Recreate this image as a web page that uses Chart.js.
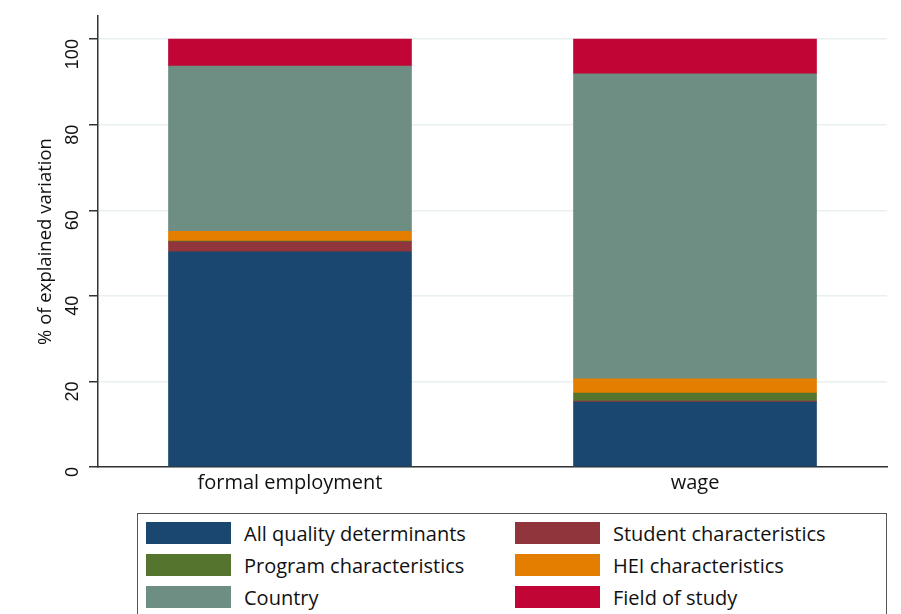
<!DOCTYPE html>
<html>
<head>
<meta charset="utf-8">
<script src="https://cdn.jsdelivr.net/npm/chart.js@4"></script>
<style>
  body { margin: 0; background: #fff; width: 901px; height: 614px; overflow: hidden; position: relative; }
  #wrap { position: absolute; left: 0; top: 0; width: 901px; height: 510px; }
  #legend { position: absolute; left: 137px; top: 513px; width: 750px; height: 120px;
            border: 1px solid #555; box-sizing: border-box; font-family: "Open Sans", sans-serif; font-size: 20px; color: #111; }
  .item { position: absolute; height: 32px; display: flex; align-items: center; }
  .sw { width: 85px; height: 22px; margin-right: 13px; }
</style>
</head>
<body>
<div id="wrap"><canvas id="myChart"></canvas></div>
<div id="legend"></div>
<script>
var categories = ["formal employment", "wage"];
var seriesNames = ["All quality determinants", "Student characteristics", "Program characteristics",
                   "HEI characteristics", "Country", "Field of study"];
var allQuality = [50.3, 15.2];
var student = [2.3, 0.2];
var program = [0.2, 1.9];
var hei = [2.3, 3.3];
var country = [38.6, 71.3];
var field = [6.3, 8.1];
var yTicks = [0, 20, 40, 60, 80, 100];
var colors = ["#1a476f", "#90353b", "#55752f", "#e37e00", "#6e8e84", "#c10534"];

var seriesValues = [allQuality, student, program, hei, country, field];

var datasets = [];
for (var i = 0; i < seriesNames.length; ++i) {
  var pts = [];
  for (var j = 0; j < categories.length; ++j) {
    pts.push({x: j, y: seriesValues[i][j]});
  }
  datasets.push({
    label: seriesNames[i],
    data: pts,
    backgroundColor: colors[i],
    borderWidth: 0,
    barThickness: 243
  });
}

var ctx = document.getElementById("myChart");
var chart = new Chart(ctx, {
  type: 'bar',
  data: {datasets: datasets},
  options: {
    responsive: true,
    maintainAspectRatio: false,
    animation: false,
    layout: {padding: {top: 16, right: 14, left: 0, bottom: 0}},
    plugins: {legend: {display: false}, tooltip: {enabled: false}},
    scales: {
      x: {
        type: 'linear',
        stacked: true,
        offset: false,
        min: -0.474,
        max: 1.474,
        afterBuildTicks: function (scale) {
          scale.ticks = categories.map(function (c, k) { return {value: k}; });
        },
        afterFit: function (scale) {
          scale.height = 43;
          scale.paddingLeft = 0;
          scale.paddingRight = 0;
        },
        ticks: {
          callback: function (v) { return categories[v]; },
          font: {family: "Open Sans", size: 20},
          color: "#111",
          padding: 4
        },
        grid: {display: false, drawTicks: false},
        border: {color: "#333", width: 1.5}
      },
      y: {
        stacked: true,
        min: 0,
        max: 105.4,
        afterBuildTicks: function (scale) {
          scale.ticks = yTicks.map(function (v) { return {value: v}; });
        },
        afterFit: function (scale) {
          scale.width = 98;
          scale.paddingTop = 0;
          scale.paddingBottom = 0;
        },
        ticks: {
          minRotation: 90,
          maxRotation: 90,
          font: {family: "Liberation Sans", size: 18},
          color: "#111",
          padding: 16
        },
        grid: {color: "#e8f0f2", lineWidth: 1.5, tickLength: 9, tickColor: "#333"},
        border: {color: "#333", width: 1.5},
        title: {
          display: true,
          text: "% of explained variation",
          font: {family: "Open Sans", size: 18.5},
          color: "#111",
          padding: {top: 35, bottom: 4}
        }
      }
    }
  }
});

// legend in two columns, built from the chart's datasets
var legend = document.getElementById("legend");
chart.data.datasets.forEach(function (ds, k) {
  var item = document.createElement("div");
  item.className = "item";
  item.style.left = (k % 2 === 0 ? 8 : 377) + "px";
  item.style.top = (3 + Math.floor(k / 2) * 32) + "px";
  var sw = document.createElement("div");
  sw.className = "sw";
  sw.style.background = ds.backgroundColor;
  var tx = document.createElement("span");
  tx.textContent = ds.label;
  item.appendChild(sw);
  item.appendChild(tx);
  legend.appendChild(item);
});
</script>
</body>
</html>
